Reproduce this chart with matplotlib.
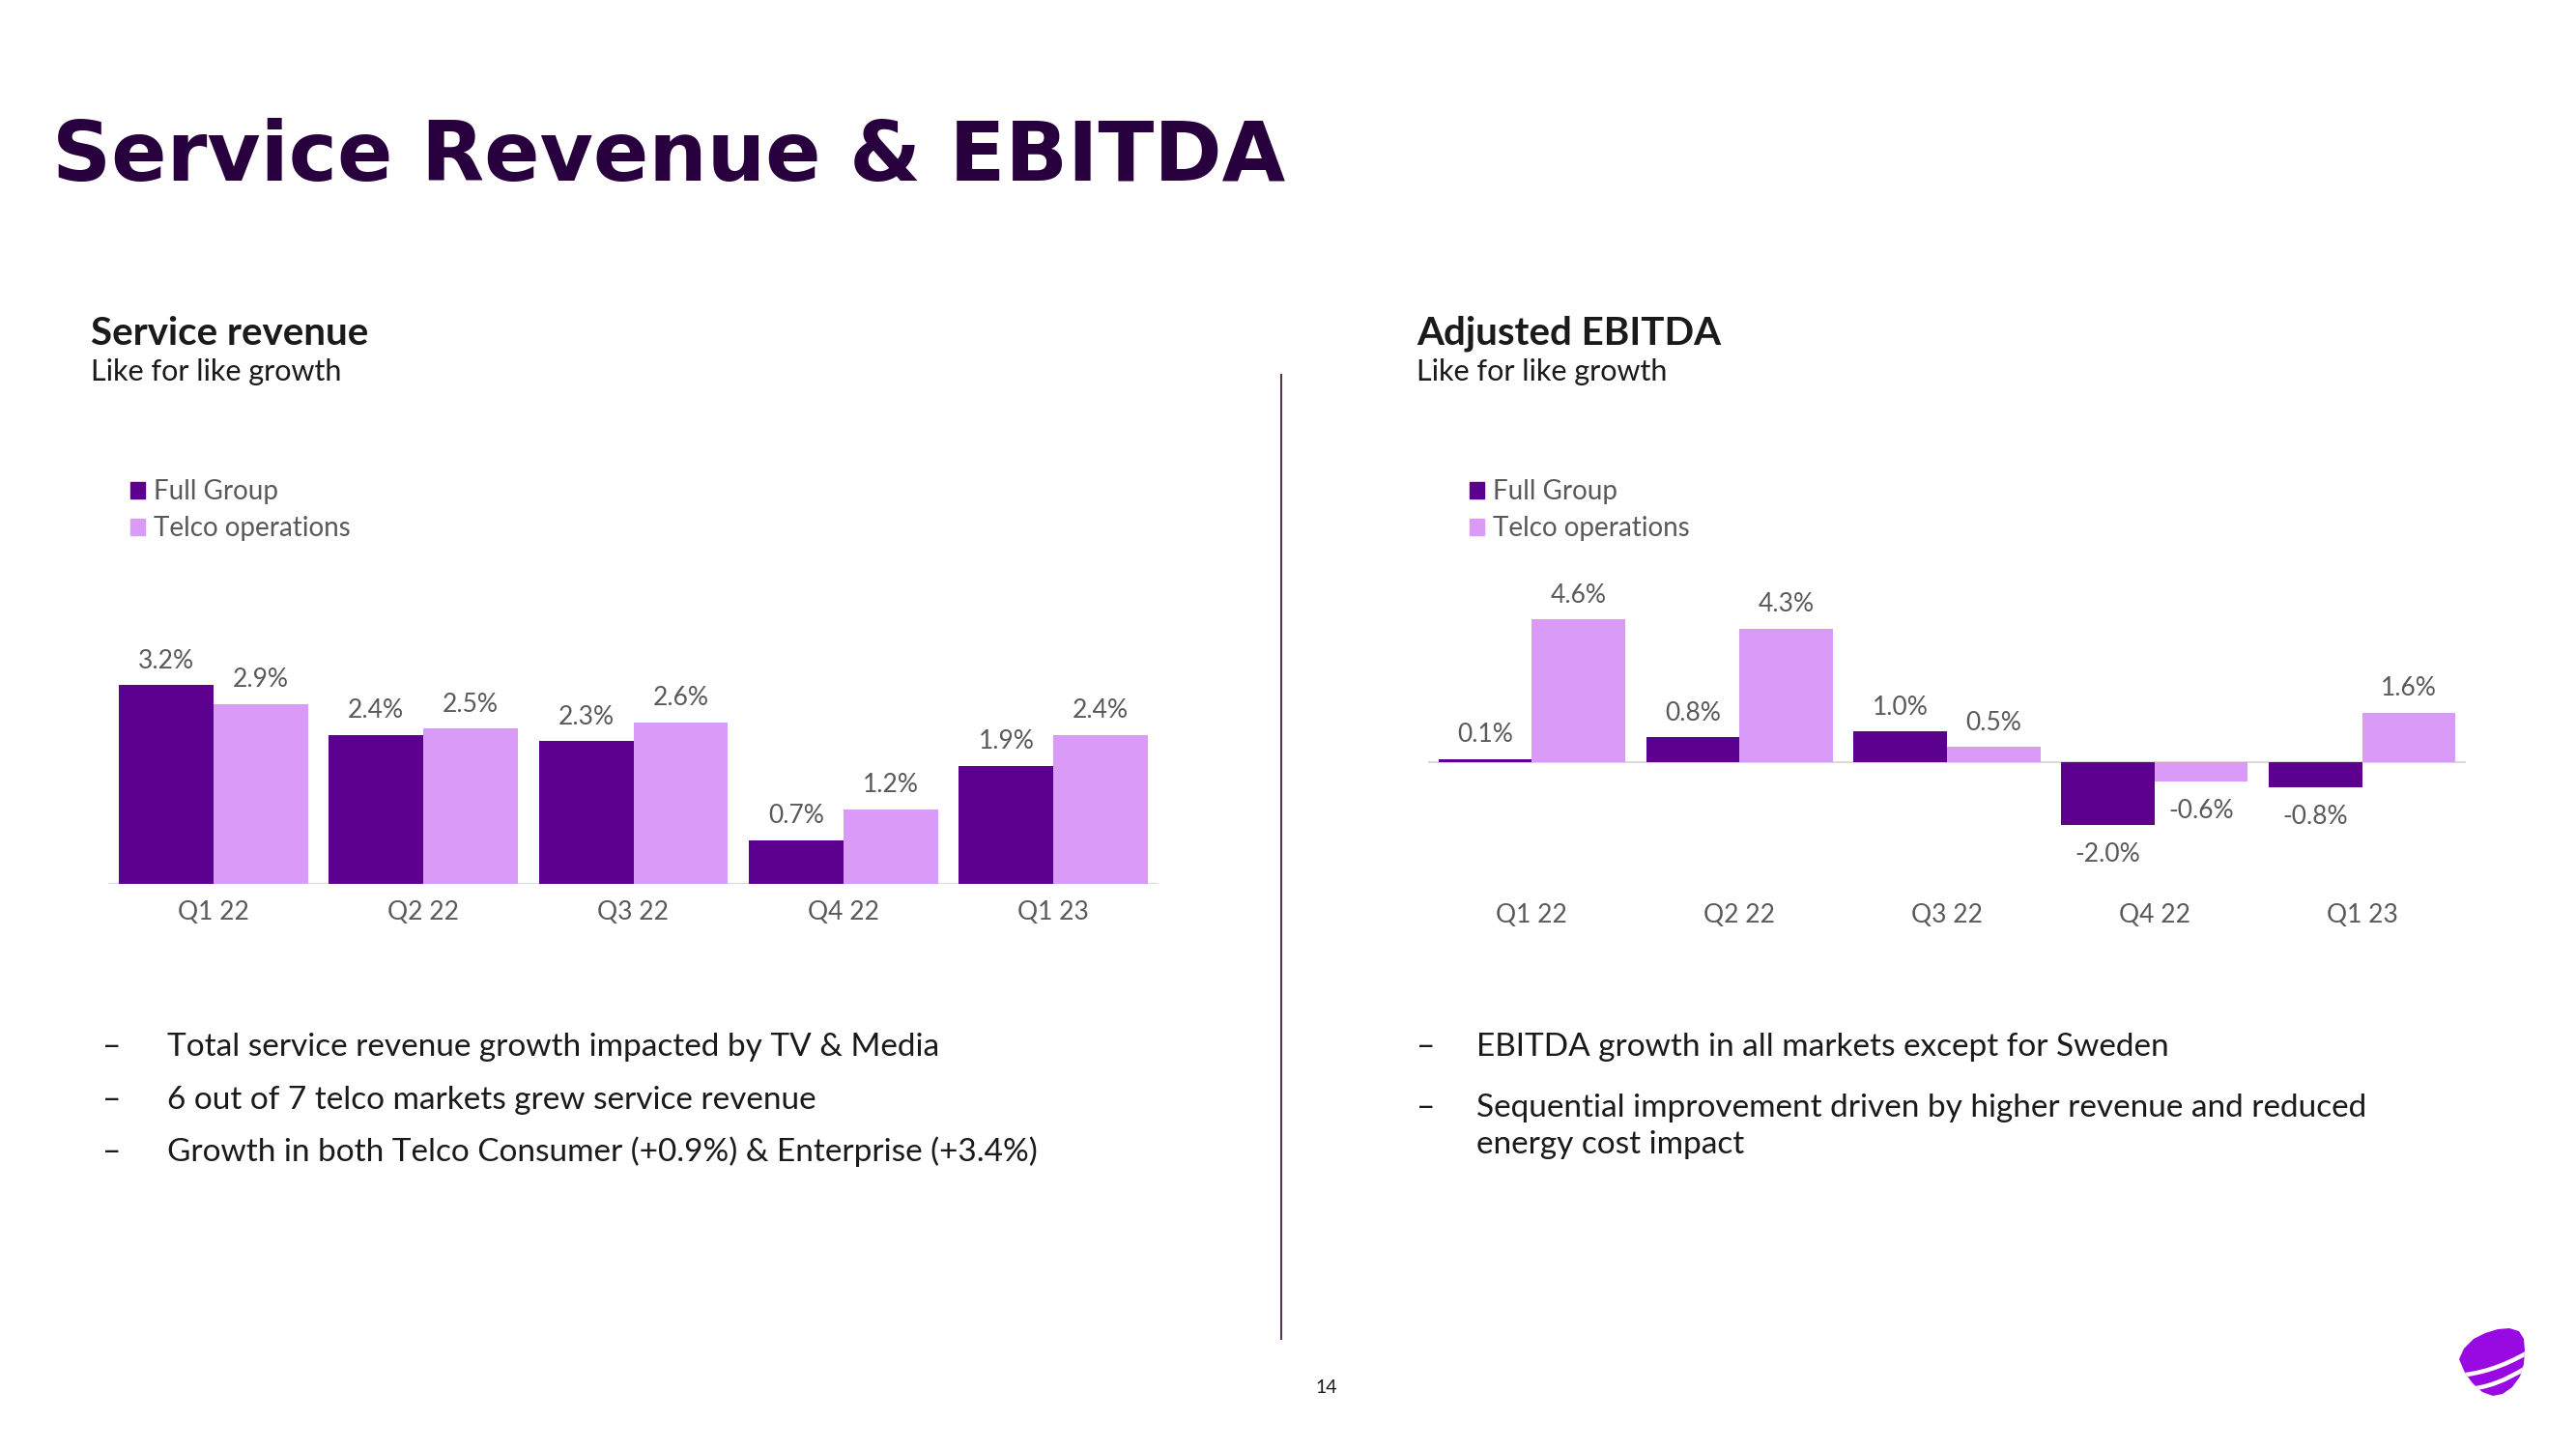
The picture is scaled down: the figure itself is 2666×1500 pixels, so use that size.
import numpy as np
import matplotlib
matplotlib.use("Agg")
import matplotlib.pyplot as plt
from matplotlib.patches import Patch, Polygon, PathPatch
from matplotlib.path import Path

# Data ------------------------------------------------------------------

quarters = ["Q1 22", "Q2 22", "Q3 22", "Q4 22", "Q1 23"]
series_names = ["Full Group", "Telco operations"]

# Service revenue, like for like growth (%)
sr_full = [3.2, 2.4, 2.3, 0.7, 1.9]
sr_telco = [2.9, 2.5, 2.6, 1.2, 2.4]

# Adjusted EBITDA, like for like growth (%)
eb_full = [0.1, 0.8, 1.0, -2.0, -0.8]
eb_telco = [4.6, 4.3, 0.5, -0.6, 1.6]

bullets_left = [
    ["Total service revenue growth impacted by TV & Media"],
    ["6 out of 7 telco markets grew service revenue"],
    ["Growth in both Telco Consumer (+0.9%) & Enterprise (+3.4%)"],
]
bullets_right = [
    ["EBITDA growth in all markets except for Sweden"],
    ["Sequential improvement driven by higher revenue and reduced",
     "energy cost impact"],
]

# Style -----------------------------------------------------------------

W, H = 2666, 1500
c_full = "#5c0090"
c_telco = "#da9af8"
c_title = "#29003e"
c_grey = "#595959"
c_text = "#1a1a1a"
c_logo = "#990ae3"

plt.rcParams["font.family"] = ["Lato", "DejaVu Sans"]

fig = plt.figure(figsize=(W / 100, H / 100), dpi=100)
fig.patch.set_facecolor("white")


def fx(px):
    return px / W


def fy(py):
    return 1 - py / H


def bar_panel(ax, full, telco, ylim):
    x = np.arange(len(quarters))
    w = 0.45
    ax.bar(x - w / 2, full, width=w, color=c_full)
    ax.bar(x + w / 2, telco, width=w, color=c_telco)

    # value labels, above positive bars and below negative ones
    for xs, vals in ((x - w / 2, full), (x + w / 2, telco)):
        for xi, v in zip(xs, vals):
            off = 9 if v >= 0 else -13
            ax.annotate(f"{v:.1f}%", (xi, v), xytext=(0, off),
                        textcoords="offset points", ha="center",
                        va="bottom" if v >= 0 else "top",
                        fontsize=19, color=c_grey)

    ax.set_xlim(-0.5, len(quarters) - 0.5)
    ax.set_ylim(*ylim)
    ax.set_xticks(x)
    ax.set_xticklabels(quarters, fontsize=19, color=c_grey)
    ax.tick_params(axis="x", length=0, pad=12)
    ax.set_yticks([])
    for s in ax.spines.values():
        s.set_visible(False)
    ax.axhline(0, color="#d9d9d9", lw=1.5, zorder=0)
    ax.patch.set_alpha(0)


# Left chart: service revenue
axl = fig.add_axes([fx(112), fy(915), fx(1199 - 112), 4.5 * 64.3 / H])
bar_panel(axl, sr_full, sr_telco, (0, 4.5))

# Right chart: adjusted EBITDA
axr = fig.add_axes([fx(1478), fy(918), fx(2552 - 1478), 10 * 32.2 / H])
bar_panel(axr, eb_full, eb_telco, (-4.0, 6.0))

# Legends
handles = [Patch(color=c_full), Patch(color=c_telco)]
for lx in (135, 1521):
    fig.legend(handles, series_names, loc="upper left",
               bbox_to_anchor=(fx(lx), fy(496)), frameon=False,
               fontsize=20, labelcolor=c_grey, handlelength=0.55,
               handleheight=0.55, handletextpad=0.3, labelspacing=0.45,
               borderaxespad=0, borderpad=0)

# Texts -----------------------------------------------------------------

fig.text(fx(54), fy(187), "Service Revenue & EBITDA", fontsize=61,
         fontweight="bold", color=c_title, family="DejaVu Sans",
         va="baseline")

for hx, head in ((94, "Service revenue"), (1466, "Adjusted EBITDA")):
    fig.text(fx(hx), fy(357), head, fontsize=29, fontweight="bold",
             color=c_text, va="baseline")
    fig.text(fx(hx), fy(394), "Like for like growth", fontsize=22,
             color=c_text, va="baseline")


def bullets(x_dash, x_text, ys, items):
    for by, lines in zip(ys, items):
        fig.text(fx(x_dash), fy(by), "\u2013", fontsize=24, color=c_text,
                 va="baseline")
        for k, line in enumerate(lines):
            fig.text(fx(x_text), fy(by + 38 * k), line, fontsize=24,
                     color=c_text, va="baseline")


bullets(106, 173, (1093, 1148, 1202), bullets_left)
bullets(1466, 1528, (1093, 1156), bullets_right)

# Divider
fig.add_artist(plt.Line2D([fx(1326), fx(1326)], [fy(388), fy(1386)],
                          color="#4d3a4f", lw=1.5))

# Page number
fig.text(fx(1373), fy(1437), "14", fontsize=14, color=c_text,
         ha="center", va="center")

# Logo ------------------------------------------------------------------

axg = fig.add_axes([fx(2520), fy(1500), fx(146), 150 / H])
axg.set_xlim(0, 146)
axg.set_ylim(150, 0)
axg.axis("off")
outline = [(25, 57), (30, 46), (40, 36), (52, 30), (65, 26), (77, 25),
           (87, 28), (92, 36), (93, 48), (92, 62), (88, 75), (80, 86),
           (70, 93), (60, 95), (49, 91), (39, 82), (31, 71)]
shape = Polygon(outline, closed=True, color=c_logo, lw=0)
axg.add_patch(shape)
for p0, p1, p2 in (((22, 74), (58, 72), (96, 50)),
                   ((34, 88), (63, 86), (94, 66))):
    band = PathPatch(Path([p0, p1, p2], [Path.MOVETO, Path.CURVE3, Path.CURVE3]),
                     fill=False, edgecolor="white", lw=3.2)
    band.set_clip_path(shape)
    axg.add_patch(band)

fig.savefig("out.png", dpi=100)
